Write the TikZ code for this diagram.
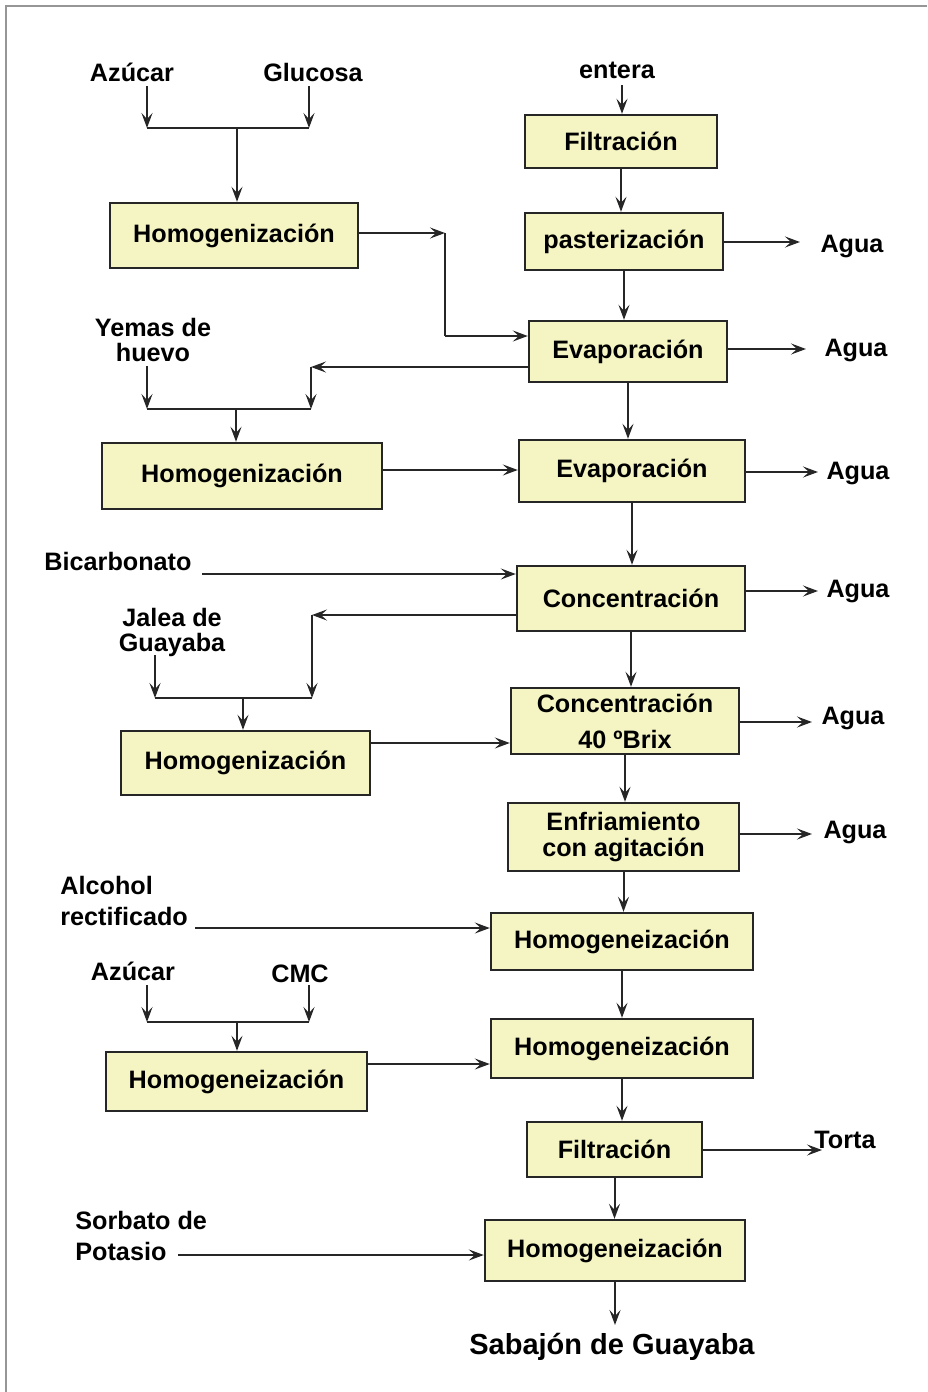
\documentclass[tikz,border=0pt]{standalone}
\usepackage{fontspec}
\setmainfont{Liberation Sans}
\usepackage{xcolor}
\definecolor{Col1}{RGB}{38,38,38}
\definecolor{Col2}{RGB}{245,245,196}
\definecolor{Col3}{RGB}{150,150,150}
\usepackage{tikz}
\usetikzlibrary{arrows.meta}
\tikzstyle{Box}=[draw=Col1,fill=Col2,line width=1.2pt,inner sep=0pt,
align=center,font=\fontsize{12.6}{13}\selectfont\bfseries]
\tikzstyle{Text}=[inner sep=0pt,align=center,
font=\fontsize{12.6}{12.5}\selectfont\bfseries]
\tikzstyle{Edge}=[draw=Col1,line width=1pt]
\tikzstyle{Flow}=[Edge,-{Stealth[length=7.5pt,width=5.5pt,inset=3pt]}]
\tikzstyle{Frame}=[draw=Col3,line width=1pt]

\begin{document}
\begin{tikzpicture}[x=0.5pt,y=-0.5pt]
        \useasboundingbox(0,0)rectangle(927,1392);
        \draw[Frame](6,1392)--(6,6)--(927,6);
        \node[Box,minimum width=96pt,minimum height=26.5pt](F1)at(621,141.5){Filtración};
        \node[Box,minimum width=99pt,minimum height=28.5pt](P)at(624,241.5){pasterización};
        \node[Box,minimum width=99pt,minimum height=30.5pt](E1)at(628,351.5){Evaporación};
        \node[Box,minimum width=124pt,minimum height=32.5pt](H1)at(234,235.5){Homogenización};
        \node[Box,minimum width=140pt,minimum height=33pt](H2)at(242,476){Homogenización};
        \node[Box,minimum width=113pt,minimum height=31pt](E2)at(632,471){Evaporación};
        \node[Box,minimum width=114pt,minimum height=32.5pt](C1)at(631,598.5){Concentración};
        \node[Box,minimum width=124.5pt,minimum height=32pt](H3)at(245.5,763){Homogenización};
        \node[Box,minimum width=114pt,minimum height=33pt](C2)at(625,721)
            {Concentración\\[5pt]40 ºBrix};
        \node[Box,minimum width=115.5pt,minimum height=34pt](EN)at(623.5,837)
            {Enfriamiento\\con agitación};
        \node[Box,minimum width=131pt,minimum height=28.5pt](HA)at(622,941.5){Homogeneización};
        \node[Box,minimum width=131pt,minimum height=29.5pt](HB)at(622,1048.5){Homogeneización};
        \node[Box,minimum width=130.5pt,minimum height=29.5pt](H4)at(236.5,1081.5){Homogeneización};
        \node[Box,minimum width=87.5pt,minimum height=27.5pt](F2)at(614.5,1149.5){Filtración};
        \node[Box,minimum width=130pt,minimum height=30.5pt](HF)at(615,1250.5){Homogeneización};
        \node[Text](Az1)at(132,72){Azúcar};
        \node[Text](Gl)at(313,72){Glucosa};
        \node[Text](En)at(617,70){entera};
        \node[Text](Ye)at(153,340){Yemas de\\huevo};
        \node[Text](Bi)at(118,561){Bicarbonato};
        \node[Text](Ja)at(172,632){Jalea de\\Guayaba};
        \node[Text,anchor=west,align=left](Al)at(60,901){Alcohol\\[3pt]rectificado};
        \node[Text](Az2)at(133,971){Azúcar};
        \node[Text](CM)at(300,974){CMC};
        \node[Text,anchor=west,align=left](So)at(75,1236){Sorbato de\\[3pt]Potasio};
        \node[Text](A1)at(852,246){Agua};
        \node[Text](A2)at(856,350){Agua};
        \node[Text](A3)at(858,473){Agua};
        \node[Text](A4)at(858,591){Agua};
        \node[Text](A5)at(853,718){Agua};
        \node[Text](A6)at(855,832){Agua};
        \node[Text](To)at(845,1140){Torta};
        \node[Text,font=\fontsize{14.5}{15}\selectfont\bfseries](Sa)at(612,1347)
            {Sabajón de Guayaba};
        \coordinate(s1)at(147,86);
        \coordinate(s2)at(309,86);
        \coordinate(j1)at(147,128);
        \coordinate(j2)at(309,128);
        \coordinate(m1)at(237,128);
        \coordinate(c1)at(445,233);
        \coordinate(c2)at(445,336);
        \coordinate(k1)at(311,367);
        \coordinate(s3)at(147,366);
        \coordinate(j3)at(147,409);
        \coordinate(j4)at(311,409);
        \coordinate(m2)at(236,409);
        \coordinate(h2)at(0,470);
        \coordinate(b1)at(202,574);
        \coordinate(k2)at(312,615);
        \coordinate(s4)at(155,655);
        \coordinate(j5)at(155,698);
        \coordinate(j6)at(312,698);
        \coordinate(m3)at(243,698);
        \coordinate(h3)at(0,743);
        \coordinate(b2)at(195,928);
        \coordinate(s5)at(147,985);
        \coordinate(s6)at(309,985);
        \coordinate(j7)at(147,1022);
        \coordinate(j8)at(309,1022);
        \coordinate(m4)at(237,1022);
        \coordinate(h4)at(0,1064);
        \coordinate(b3)at(178,1255);
        \coordinate(e1)at(622,85);
        \coordinate(z1)at(616,1325);
        \coordinate(w1)at(800,242);
        \coordinate(w2)at(806,349);
        \coordinate(w3)at(818,472);
        \coordinate(w4)at(818,591);
        \coordinate(w5)at(812,722);
        \coordinate(w6)at(812,834);
        \coordinate(w7)at(822,1150);
        \draw[Flow](s1)--(j1);
        \draw[Flow](s2)--(j2);
        \draw[Edge](j1)--(j2);
        \draw[Flow](m1)--(m1|-H1.north);
        \draw[Flow](H1.east|-c1)--(c1);
        \draw[Edge](c1)--(c2);
        \draw[Flow](c2)--(E1.west|-c2);
        \draw[Flow](E1.west|-k1)--(k1);
        \draw[Flow](k1)--(j4);
        \draw[Flow](s3)--(j3);
        \draw[Edge](j3)--(j4);
        \draw[Flow](m2)--(m2|-H2.north);
        \draw[Flow](h2-|H2.east)--(h2-|E2.west);
        \draw[Flow](b1)--(b1-|C1.west);
        \draw[Flow](C1.west|-k2)--(k2);
        \draw[Flow](k2)--(j6);
        \draw[Flow](s4)--(j5);
        \draw[Edge](j5)--(j6);
        \draw[Flow](m3)--(m3|-H3.north);
        \draw[Flow](h3-|H3.east)--(h3-|C2.west);
        \draw[Flow](b2)--(b2-|HA.west);
        \draw[Flow](s5)--(j7);
        \draw[Flow](s6)--(j8);
        \draw[Edge](j7)--(j8);
        \draw[Flow](m4)--(m4|-H4.north);
        \draw[Flow](h4-|H4.east)--(h4-|HB.west);
        \draw[Flow](b3)--(b3-|HF.west);
        \draw[Flow](e1)--(e1|-F1.north);
        \draw[Flow](F1.south)--(F1.south|-P.north);
        \draw[Flow](P.south)--(P.south|-E1.north);
        \draw[Flow](E1.south)--(E1.south|-E2.north);
        \draw[Flow](E2.south)--(E2.south|-C1.north);
        \draw[Flow](C1.south)--(C1.south|-C2.north);
        \draw[Flow](C2.south)--(C2.south|-EN.north);
        \draw[Flow](EN.south)--(EN.south|-HA.north);
        \draw[Flow](HA.south)--(HA.south|-HB.north);
        \draw[Flow](HB.south)--(HB.south|-F2.north);
        \draw[Flow](F2.south)--(F2.south|-HF.north);
        \draw[Flow](HF.south)--(HF.south|-z1);
        \draw[Flow](P.east|-w1)--(w1);
        \draw[Flow](E1.east|-w2)--(w2);
        \draw[Flow](E2.east|-w3)--(w3);
        \draw[Flow](C1.east|-w4)--(w4);
        \draw[Flow](C2.east|-w5)--(w5);
        \draw[Flow](EN.east|-w6)--(w6);
        \draw[Flow](F2.east|-w7)--(w7);
    \end{tikzpicture}
\end{document}
